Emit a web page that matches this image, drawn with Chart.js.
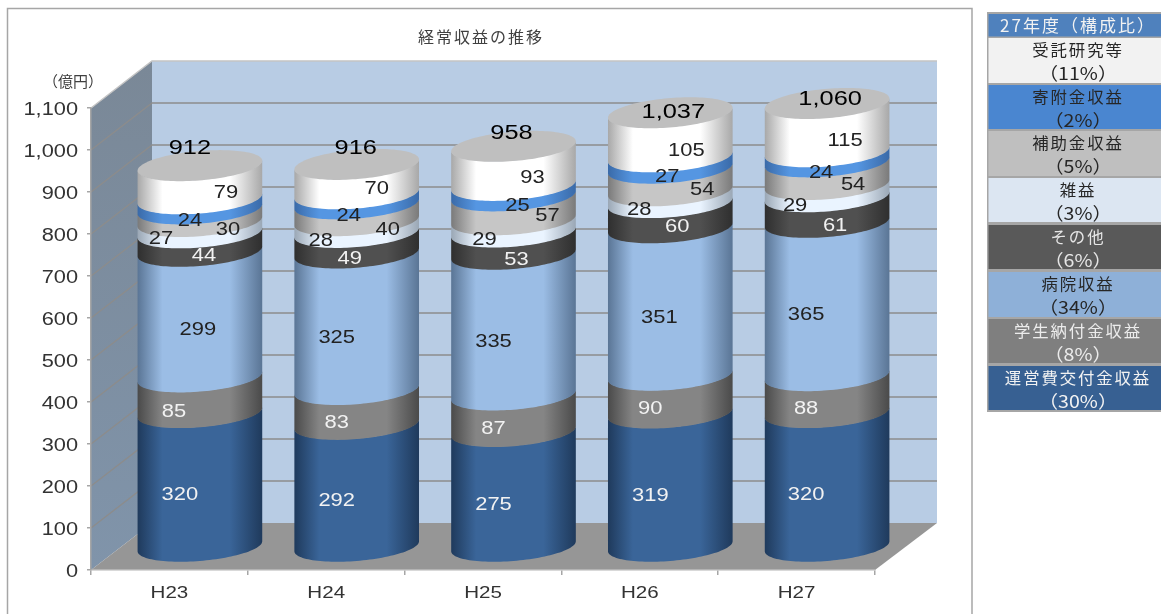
<!DOCTYPE html>
<html><head><meta charset="utf-8">
<script src="https://cdn.jsdelivr.net/npm/chart.js@4"></script>
<style>html,body{margin:0;padding:0;background:#fff;overflow:hidden}canvas{display:block}</style>
</head><body><canvas id="c" width="1161" height="614"></canvas>
<script>
const categories = ['H23','H24','H25','H26','H27'];
const totals = [912,916,958,1037,1060];
const s運営費 = [320,292,275,319,320];
const s学生 = [85,83,87,90,88];
const s病院 = [299,325,335,351,365];
const sその他 = [44,49,53,60,61];
const s雑益 = [27,28,29,28,29];
const s補助金 = [30,40,57,54,54];
const s寄附金 = [24,24,25,27,24];
const s受託 = [79,70,93,105,115];
const seriesNames = ['運営費交付金収益','学生納付金収益','病院収益','その他','雑益','補助金収益','寄附金収益','受託研究等'];
const seriesValues = [s運営費,s学生,s病院,sその他,s雑益,s補助金,s寄附金,s受託];
const sharePct = ['30%','8%','34%','6%','3%','5%','2%','11%'];
const yTicks = [0,100,200,300,400,500,600,700,800,900,1000,1100];

// styles
const legendFill = ['#376092','#7f7f7f','#8eb0d8','#595959','#dce6f2','#bfbfbf','#4a86d0','#f2f2f2'];
const legendInk = ['#f2f2f2','#ececec','#262626','#e6e6e6','#262626','#262626','#262626','#262626'];
const sideEdge = ['#1f3a5c','#4a4a4a','#5a7595','#2f2f2f','#9aa7b5','#7a7a7a','#3a6aa8','#a8a8a8'];
const sideMid = ['#3a6599','#858585','#9bbde5','#505050','#eaf4ff','#c6c6c6','#5596e2','#ffffff'];
const labelInk = ['#f2f2f2','#f2f2f2','#222','#f2f2f2','#222','#222','#222','#222'];
// hand-placed label nudges from the segment's centre, per series then category
const nudgeX = [[-20,-20,-20,-20,-21],[-26,-20,-20,-20,-21],[-2,-20,-20,-11,-21],[4,-7,3,7,8],[-39,-36,-29,-31,-32],[28,31,34,32,26],[-10,-8,4,-3,-6],[26,20,19,16,18]];
const nudgeY = [[14,14,14,14,14],[15,14,14,13,13],[14,15,15,15,14],[12,14,15,10,15],[10,12,12,11,13],[13,16,6,9,10],[15,15,13,13,14],[9,8,10,14,11]];
const totalNudgeX = [-10,-1,-2,3,3];
const totalNudgeY = [-3,-2,1,14,10];
const DX=61, DY=47;

function stretched(ctx,text,x,y,font,sx,color){
  ctx.save();ctx.translate(x,y);ctx.scale(sx,1);
  ctx.font=font;ctx.fillStyle=color;ctx.textAlign='center';ctx.textBaseline='middle';
  ctx.fillText(text,0,0);ctx.restore();
}
const LIB='"Liberation Sans"', CJK='"Noto Sans CJK JP"';
let widenAxisText=false, rawFill=null;
const scene = {
  id:'scene',
  beforeDraw(chart){
    const {ctx,chartArea:a,scales:{y}}=chart;
    if(!rawFill){
      rawFill=ctx.fillText.bind(ctx);
      ctx.fillText=function(t,x,yy){
        if(!widenAxisText) return rawFill(t,x,yy);
        ctx.save();ctx.translate(x,yy+2);ctx.scale(1.21,1);rawFill(t,0,0);ctx.restore();
      };
    }
    ctx.save();
    ctx.fillStyle='#fff';ctx.fillRect(0,0,chart.width,chart.height);
    ctx.strokeStyle='#a6a6a6';ctx.lineWidth=1.5;ctx.strokeRect(7.5,8.5,964.5,620);
    ctx.fillStyle='#b8cce4';ctx.fillRect(a.left+DX,a.top-DY,a.width+1,a.height);
    const g=ctx.createLinearGradient(0,a.top-DY,0,a.bottom);g.addColorStop(0,'#7a8897');g.addColorStop(1,'#8094aa');
    ctx.fillStyle=g;ctx.beginPath();ctx.moveTo(a.left,a.top);ctx.lineTo(a.left+DX,a.top-DY);ctx.lineTo(a.left+DX,a.bottom-DY);ctx.lineTo(a.left,a.bottom);ctx.closePath();ctx.fill();
    ctx.fillStyle='#969696';ctx.beginPath();ctx.moveTo(a.left,a.bottom);ctx.lineTo(a.left+DX,a.bottom-DY);ctx.lineTo(a.right+DX+1,a.bottom-DY);ctx.lineTo(a.right,a.bottom);ctx.closePath();ctx.fill();
    ctx.lineWidth=1.4;
    yTicks.forEach(v=>{ if(v===0)return;
      const p=y.getPixelForValue(v);
      ctx.strokeStyle=v===1100?'#c4c4c4':'#8c8c8c';
      ctx.beginPath();ctx.moveTo(a.left,p);ctx.lineTo(a.left+DX,p-DY);ctx.lineTo(a.right+DX+1,p-DY);ctx.stroke();
    });
    ctx.restore();
    widenAxisText=true;
  },
  beforeDatasetsDraw(chart){
    widenAxisText=false;
    const ctx=chart.ctx;
    const tR=Math.atan2(20,59), tL=tR-Math.PI;
    categories.forEach((_,j)=>{
      seriesValues.forEach((_,i)=>{
        const el=chart.getDatasetMeta(i).data[j];
        const cx=el.x+DX/2, hw=el.width/2;
        const ax=hw*0.947, bx=hw*0.321, by=hw*0.249;
        const yb=el.base-DY/2+0.5, yt=el.y-DY/2+0.5;
        const P=(t,cy)=>[cx+ax*Math.cos(t)+bx*Math.sin(t),cy-by*Math.sin(t)];
        const gr=ctx.createLinearGradient(cx-hw,0,cx+hw,0);
        gr.addColorStop(0,sideEdge[i]);gr.addColorStop(.2,sideMid[i]);
        gr.addColorStop(.74,sideMid[i]);gr.addColorStop(1,sideEdge[i]);
        ctx.fillStyle=gr;ctx.beginPath();
        const N=60;
        for(let k=0;k<=N;k++){const p=P(tR+(tL-tR)*k/N,yb);k?ctx.lineTo(p[0],p[1]):ctx.moveTo(p[0],p[1]);}
        for(let k=N;k>=0;k--){const p=P(tR+(tL-tR)*k/N,yt-0.6);ctx.lineTo(p[0],p[1]);}
        ctx.closePath();ctx.fill();
        if(i===seriesValues.length-1){
          ctx.fillStyle='#bfbfbf';ctx.beginPath();
          for(let k=0;k<=2*N;k++){const p=P(Math.PI*k/N,yt);k?ctx.lineTo(p[0],p[1]):ctx.moveTo(p[0],p[1]);}
          ctx.closePath();ctx.fill();
        }
      });
    });
    categories.forEach((_,j)=>{
      seriesValues.forEach((vals,i)=>{
        const el=chart.getDatasetMeta(i).data[j];
        stretched(ctx,String(vals[j]),el.x+DX/2+nudgeX[i][j],(el.y+el.base)/2-DY/2+nudgeY[i][j]+2.5,'18px '+LIB,1.22,labelInk[i]);
      });
    });
    return false;
  },
  afterDraw(chart){
    const {ctx}=chart;
    ctx.save();
    const topEl=chart.getDatasetMeta(seriesValues.length-1).data;
    categories.forEach((_,j)=>{
      stretched(ctx,totals[j].toLocaleString('en-US'),topEl[j].x+DX/2+totalNudgeX[j],topEl[j].y-DY/2+totalNudgeY[j]-13.5,'20px '+LIB,1.27,'#000');
    });
    ctx.fillStyle='#404040';ctx.textAlign='center';ctx.textBaseline='middle';
    ctx.letterSpacing='2px';ctx.font='16px '+CJK;
    ctx.fillText('経常収益の推移',481,37);
    ctx.letterSpacing='0px';ctx.font='15px '+CJK;
    ctx.fillText('（億円）',73,81);
    const L=988.5,W=173;
    ctx.fillStyle='#a6a6a6';ctx.fillRect(L-1.5,12,W+2,400);
    ctx.fillStyle='#4f81bd';ctx.fillRect(L,14,W,22.5);
    ctx.fillStyle='#f2f2f2';ctx.letterSpacing='2px';ctx.font='17px '+CJK;
    ctx.fillText('27年度（構成比）',1078,26);
    const rowTop=[366,319,272,225,178,131,85,38], rowH=[44,44,45,44,44,45,44,45];
    seriesNames.forEach((name,i)=>{
      ctx.fillStyle=legendFill[i];ctx.fillRect(L,rowTop[i],W,rowH[i]);
      ctx.fillStyle=legendInk[i];ctx.letterSpacing='1.9px';ctx.font='16.4px '+CJK;
      ctx.fillText(name,1078,rowTop[i]+12);
      ctx.letterSpacing='0px';
      stretched(ctx,'（'+sharePct[i]+'）',1078,rowTop[i]+35,'17.5px '+CJK,1.12,legendInk[i]);
    });
    ctx.restore();
  }
};
new Chart(document.getElementById('c'),{
  type:'bar',
  data:{labels:categories,datasets:seriesNames.map((n,i)=>({label:n,data:seriesValues[i],backgroundColor:legendFill[i],stack:'s',barPercentage:0.795,categoryPercentage:1}))},
  plugins:[scene],
  options:{
    responsive:false,animation:false,
    layout:{padding:{left:0,top:108,right:286,bottom:0}},
    plugins:{legend:{display:false},title:{display:false},tooltip:{enabled:false}},
    scales:{
      x:{stacked:true,
        afterFit(s){s.height=44;},
        border:{color:'#b3b3b3',width:1.5},
        grid:{drawOnChartArea:false,drawTicks:true,tickLength:5,color:'#a6a6a6',lineWidth:1.5},
        ticks:{color:'#333',padding:6,font:{family:'Liberation Sans',size:17},maxRotation:0}},
      y:{stacked:true,min:0,max:1100,
        afterFit(s){s.width=91;},
        afterBuildTicks(s){s.ticks=yTicks.map(v=>({value:v}));},
        border:{color:'#a6a6a6',width:1.5},
        grid:{drawOnChartArea:false,drawTicks:true,tickLength:4,color:'#a6a6a6',lineWidth:1.5},
        ticks:{color:'#333',padding:9,font:{family:'Liberation Sans',size:18},callback:v=>v.toLocaleString('en-US')}}
    }
  }
});
</script></body></html>
